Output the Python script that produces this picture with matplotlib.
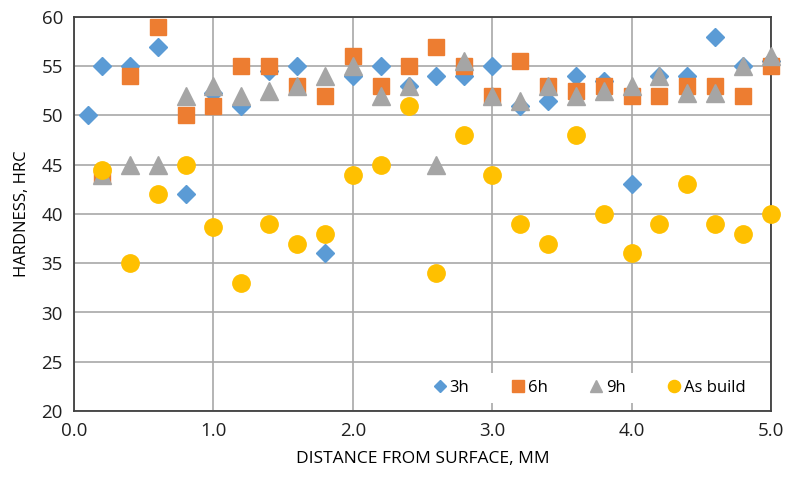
import matplotlib
matplotlib.use("Agg")
import matplotlib.pyplot as plt

x3 = [0.1, 0.2, 0.4, 0.6, 0.8, 1.0, 1.2, 1.4, 1.6, 1.8, 2.0, 2.2, 2.4, 2.6, 2.8, 3.0,
      3.2, 3.4, 3.6, 3.8, 4.0, 4.2, 4.4, 4.6, 4.8, 5.0]
h3 = [50, 55, 55, 57, 42, 52.3, 51, 54.5, 55, 36, 54, 55, 53, 54, 54, 55,
      51, 51.5, 54, 53.5, 43, 54, 54, 58, 55, 55.5]
x = [0.2, 0.4, 0.6, 0.8, 1.0, 1.2, 1.4, 1.6, 1.8, 2.0, 2.2, 2.4, 2.6, 2.8, 3.0,
     3.2, 3.4, 3.6, 3.8, 4.0, 4.2, 4.4, 4.6, 4.8, 5.0]
h6 = [44, 54, 59, 50, 51, 55, 55, 53, 52, 56, 53, 55, 57, 55, 52,
      55.5, 53, 52.5, 53, 52, 52, 53, 53, 52, 55]
h9 = [44, 45, 45, 52, 53, 52, 52.5, 53, 54, 55, 52, 53, 45, 55.5, 52,
      51.5, 53, 52, 52.5, 53, 54, 52.3, 52.3, 55, 56]
hab = [44.5, 35, 42, 45, 38.7, 33, 39, 37, 38, 44, 45, 51, 34, 48, 44,
       39, 37, 48, 40, 36, 39, 43, 39, 38, 40]

xticks = [0.0, 1.0, 2.0, 3.0, 4.0, 5.0]
yticks = [20, 25, 30, 35, 40, 45, 50, 55, 60]

plt.rcParams['font.family'] = ['Open Sans', 'DejaVu Sans']

fig = plt.figure(figsize=(7.9, 4.78), dpi=100)
ax = fig.add_axes([74/790, 1 - 411/478, (771-74)/790, (411-17)/478])

ax.plot(x3, h3, linestyle='none', marker='D', markersize=9, color='#5B9BD5', label='3h', clip_on=False, zorder=3)
ax.plot(x, h6, linestyle='none', marker='s', markersize=12, color='#ED7D31', label='6h', clip_on=False, zorder=4)
ax.plot(x, h9, linestyle='none', marker='^', markersize=13, color='#A5A5A5', label='9h', clip_on=False, zorder=5)
ax.plot(x, hab, linestyle='none', marker='o', markersize=12.5, color='#FFC000', label='As build', clip_on=False, zorder=6)

ax.set_xlim(0, 5)
ax.set_ylim(20, 60)
ax.set_xticks(xticks)
ax.set_xticklabels([f"{v:.1f}" for v in xticks])
ax.set_yticks(yticks)
ax.grid(True, color='#A8A8A8', linewidth=1.2, zorder=0)
ax.set_axisbelow(True)
for s in ax.spines.values():
    s.set_color('#404040')
    s.set_linewidth(1.3)
ax.tick_params(length=0, labelsize=13.5, pad=8, colors='#202020')
ax.set_xlabel('DISTANCE FROM SURFACE, MM', fontsize=12.5, labelpad=8)
ax.set_ylabel('HARDNESS, HRC', fontsize=12, labelpad=8)

leg = ax.legend(loc='lower right', ncol=4, frameon=True, fontsize=12,
                handletextpad=0.1, columnspacing=2.4, borderaxespad=0.5,
                markerscale=0.7, handlelength=1.0, fancybox=False,
                bbox_to_anchor=(0.985, 0.0))
leg.get_frame().set_facecolor('white')
leg.get_frame().set_edgecolor('none')
leg.get_frame().set_alpha(1)
leg.set_zorder(10)

fig.savefig('out.png', dpi=100)
